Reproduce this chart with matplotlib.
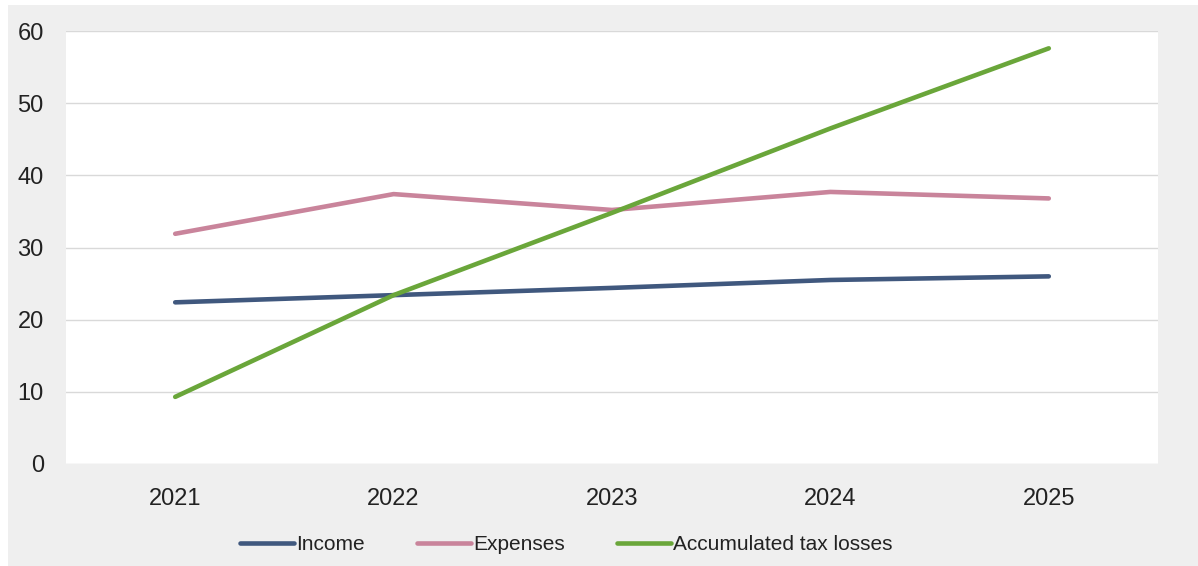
import matplotlib
matplotlib.use('Agg')
import matplotlib.pyplot as plt
from matplotlib.patches import Rectangle

plt.rcParams['font.family'] = ['Liberation Sans', 'DejaVu Sans']

years = ['2021', '2022', '2023', '2024', '2025']
income = [22.4, 23.4, 24.4, 25.5, 26.0]
expenses = [31.9, 37.4, 35.2, 37.7, 36.8]
tax_losses = [9.3, 23.4, 34.8, 46.5, 57.6]

fig = plt.figure(figsize=(11.98, 5.66), dpi=100)
fig.patch.set_facecolor('white')
# grey panel behind everything, leaving a thin white edge top/left
fig.patches.append(Rectangle((8 / 1198, 0), 1, 1 - 5 / 566, transform=fig.transFigure,
                             facecolor='#efefef', edgecolor='none', zorder=-10))

ax = fig.add_axes([66 / 1198, 1 - 464 / 566, (1158 - 66) / 1198, (464 - 31) / 566])
ax.set_facecolor('white')

x = range(len(years))
ax.plot(x, income, color='#40587e', lw=3.3, solid_capstyle='round', label='Income')
ax.plot(x, expenses, color='#c9849b', lw=3.3, solid_capstyle='round', label='Expenses')
ax.plot(x, tax_losses, color='#6aa63a', lw=3.3, solid_capstyle='round', label='Accumulated tax losses')

ax.set_xlim(-0.5, 4.5)
ax.set_ylim(0, 60)
ax.set_xticks(list(x))
ax.set_xticklabels(years)
ax.set_yticks(range(0, 61, 10))
ax.yaxis.grid(True, color='#d9d9d9', lw=1)
ax.set_axisbelow(True)
for s in ax.spines.values():
    s.set_visible(False)
ax.tick_params(length=0, labelsize=17, colors='#222222')
ax.tick_params(axis='x', pad=17)
ax.tick_params(axis='y', pad=16)

leg = fig.legend(loc='center', bbox_to_anchor=(566 / 1198, 1 - 545 / 566), ncol=3,
                 frameon=False, fontsize=15, handlelength=2.6, handletextpad=0.1,
                 columnspacing=2.5)
for t in leg.get_texts():
    t.set_color('#222222')

fig.savefig('out.png', dpi=100)
